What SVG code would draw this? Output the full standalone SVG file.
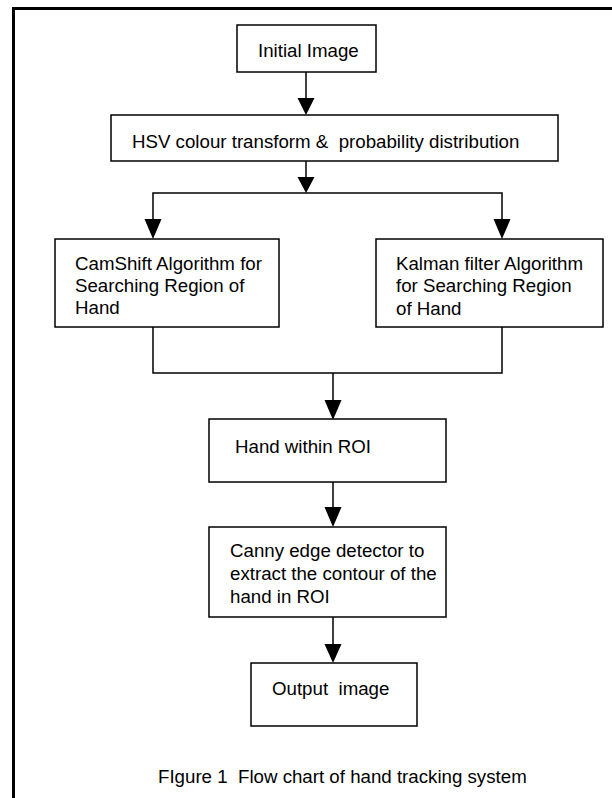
<svg xmlns="http://www.w3.org/2000/svg" width="612" height="798" viewBox="0 0 612 798">
<style>
.box{fill:#fff;stroke:#000;stroke-width:1.5}
.t{font-family:"Liberation Sans",Arial,sans-serif;font-size:18.7px;fill:#000}
.ln{fill:none;stroke:#000;stroke-width:1.5}
.ah{fill:#000;stroke:none}
</style>
<rect width="612" height="798" fill="#fff"/>
<path d="M13.5,798 V8.5 H612" fill="none" stroke="#000" stroke-width="3"/>
<g id="connectors">
<path class="ln" d="M306,72 V99"/>
<polygon class="ah" points="297.5,98 314.5,98 306,115"/>
<path class="ln" d="M306,161 V178"/>
<polygon class="ah" points="297.5,177 314.5,177 306,193"/>
<path class="ln" d="M153,220 V193 H502 V220"/>
<polygon class="ah" points="144.5,219 161.5,219 153,239"/>
<polygon class="ah" points="493.5,219 510.5,219 502,239"/>
<path class="ln" d="M153,327 V373 H502 V327"/>
<path class="ln" d="M333,373 V401"/>
<polygon class="ah" points="324.5,400 341.5,400 333,420"/>
<path class="ln" d="M333,482 V508"/>
<polygon class="ah" points="324.5,507 341.5,507 333,527"/>
<path class="ln" d="M333,617 V645"/>
<polygon class="ah" points="324.5,644 341.5,644 333,663"/>
</g>
<g id="initial"><rect class="box" x="237" y="25" width="139" height="47"/><text class="t" x="258" y="57">Initial Image</text></g>
<g id="hsv"><rect class="box" x="111" y="115" width="447" height="46"/><text class="t" x="132" y="148" xml:space="preserve">HSV colour transform &amp;  probability distribution</text></g>
<g id="camshift"><rect class="box" x="55" y="239" width="224" height="88"/><text class="t"><tspan x="75" y="270">CamShift Algorithm for</tspan><tspan x="75" y="292">Searching Region of</tspan><tspan x="75" y="314">Hand</tspan></text></g>
<g id="kalman"><rect class="box" x="376" y="239" width="227" height="88"/><text class="t"><tspan x="396" y="270">Kalman filter Algorithm</tspan><tspan x="396" y="292">for Searching Region</tspan><tspan x="396" y="315">of Hand</tspan></text></g>
<g id="roi"><rect class="box" x="209" y="419" width="237" height="63"/><text class="t" x="235" y="453">Hand within ROI</text></g>
<g id="canny"><rect class="box" x="209" y="527" width="237" height="90"/><text class="t"><tspan x="230" y="557">Canny edge detector to</tspan><tspan x="230" y="580">extract the contour of the</tspan><tspan x="230" y="603">hand in ROI</tspan></text></g>
<g id="output"><rect class="box" x="251" y="663" width="166" height="63"/><text class="t" x="272" y="695" xml:space="preserve">Output  image</text></g>
<text class="t" x="158" y="783" xml:space="preserve">FIgure 1  Flow chart of hand tracking system</text>
</svg>
